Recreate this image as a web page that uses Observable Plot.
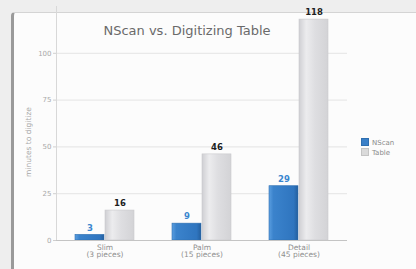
<!DOCTYPE html>
<html><head><meta charset="utf-8">
<script src="https://cdn.jsdelivr.net/npm/d3@7"></script>
<script src="https://cdn.jsdelivr.net/npm/@observablehq/plot@0.6"></script>
<style>
body{margin:0;background:#eeeeee;font-family:"DejaVu Sans",sans-serif;}
#wrap{position:relative;width:416px;height:269px;overflow:hidden;background:#eeeeee;}
#panel{position:absolute;left:11px;top:12px;width:420px;height:270px;background:#fcfcfc;border:1px solid #d4d4d4;border-left:3px solid #9a9a9a;border-radius:4px;}
#chart{position:absolute;left:0;top:0;}
#title{position:absolute;left:0;width:374px;top:23px;text-align:center;font-size:13px;color:#6a6a6a;}
#ylabel{position:absolute;left:28px;top:142px;width:0;height:0;}
#ylabel span{position:absolute;transform:translate(-50%,-50%) rotate(-90deg);white-space:nowrap;font-size:7.5px;color:#a8a8a8;}
#legend{position:absolute;left:361px;top:138px;font-size:7px;color:#8a8a8a;line-height:9px;}
#legend .sw{display:inline-block;width:6px;height:6px;margin-right:3px;vertical-align:-1px;}
</style></head>
<body>
<div id="wrap">
  <div id="panel"></div>
  <div id="chart"></div>
  <div id="title"></div>
  <div id="ylabel"><span></span></div>
  <div id="legend"></div>
</div>
<script>
const titleText = "NScan vs. Digitizing Table";
const yLabel = "minutes to digitize";
const categories = ["Slim", "Palm", "Detail"];
const pieces = ["(3 pieces)", "(15 pieces)", "(45 pieces)"];
const series = ["NScan", "Table"];
const nscan = [3, 9, 29];
const table = [16, 46, 118];
const yTicks = [0, 25, 50, 75, 100];
const seriesColors = ["#3a80c8", "#dadada"];
const labelColors = ["#3a86cf", "#1e1e1e"];

const rows = categories.flatMap((c, i) => [
  {cat: c, series: series[0], value: nscan[i]},
  {cat: c, series: series[1], value: table[i]}
]);

const plot = Plot.plot({
  width: 416, height: 269,
  marginLeft: 55, marginRight: 69, marginTop: 6, marginBottom: 29,
  style: {background: "transparent", fontFamily: "DejaVu Sans, sans-serif", overflow: "visible"},
  fx: {domain: categories, padding: 0, label: null},
  x: {domain: series, paddingInner: 0.03, paddingOuter: 0.63, axis: null},
  y: {domain: [0, 125], label: null},
  marks: [
    Plot.gridY(yTicks.slice(1), {stroke: "#e4e4e4", strokeOpacity: 1}),
    Plot.frame({anchor: "left", stroke: "#d8d8d8", fx: () => categories[0]}),
    Plot.barY(rows.filter(d => d.series === series[0]), {fx: "cat", x: "series", y: "value", fill: "url(#gN)", stroke: "#2f6fb0", strokeWidth: 0.6}),
    Plot.barY(rows.filter(d => d.series === series[1]), {fx: "cat", x: "series", y: "value", fill: "url(#gT)", stroke: "#c9c9cc", strokeWidth: 0.6}),
    Plot.ruleY([0], {stroke: "#c4c4c4"}),
    Plot.text(rows, {fx: "cat", x: "series", y: "value", text: d => String(d.value), dy: -7,
      fontWeight: "bold", fontSize: 8.5, fill: d => labelColors[series.indexOf(d.series)]}),
    Plot.axisY(yTicks, {tickSize: 3, tickPadding: 2, fontSize: 7, color: "#a8a8a8", stroke: "#cfcfcf", label: null}),
    Plot.axisFx({anchor: "bottom", tickSize: 0, tickPadding: 4, fontSize: 7.5, color: "#8e8e8e", label: null,
      tickFormat: d => d + "\n" + pieces[categories.indexOf(d)]})
  ]
});

// gradients for bars
const svg = d3.select(plot);
const defs = svg.insert("defs", ":first-child");
const gN = defs.append("linearGradient").attr("id", "gN").attr("x1", "0").attr("x2", "1").attr("y1", "0").attr("y2", "0");
gN.append("stop").attr("offset", "0").attr("stop-color", "#5a9ee0");
gN.append("stop").attr("offset", "0.15").attr("stop-color", "#3b83cc");
gN.append("stop").attr("offset", "0.85").attr("stop-color", "#2f75bf");
gN.append("stop").attr("offset", "1").attr("stop-color", "#245f9e");
const gT = defs.append("linearGradient").attr("id", "gT").attr("x1", "0").attr("x2", "1").attr("y1", "0").attr("y2", "0");
gT.append("stop").attr("offset", "0").attr("stop-color", "#cfcfd3");
gT.append("stop").attr("offset", "0.25").attr("stop-color", "#ececee");
gT.append("stop").attr("offset", "0.55").attr("stop-color", "#dedee1");
gT.append("stop").attr("offset", "1").attr("stop-color", "#d3d3d6");

document.getElementById("chart").appendChild(plot);
document.getElementById("title").textContent = titleText;
document.querySelector("#ylabel span").textContent = yLabel;

const legend = document.getElementById("legend");
series.forEach((s, i) => {
  const row = document.createElement("div");
  const sw = document.createElement("span");
  sw.className = "sw";
  sw.style.background = seriesColors[i];
  sw.style.border = "0.5px solid " + (i === 0 ? "#2f6fb0" : "#c4c4c4");
  row.appendChild(sw);
  row.appendChild(document.createTextNode(s));
  legend.appendChild(row);
});
</script>
</body></html>
